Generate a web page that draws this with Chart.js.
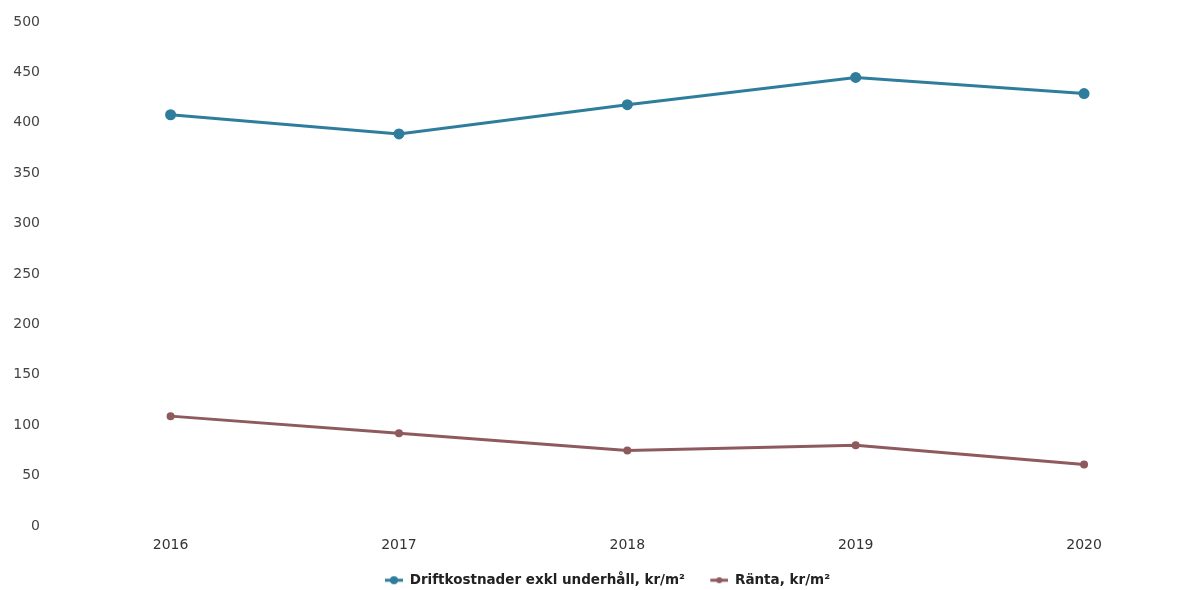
<!DOCTYPE html>
<html lang="sv">
<head>
  <meta charset="UTF-8">
  <title>Driftkostnader och ränta</title>
  <script src="https://cdn.jsdelivr.net/npm/chart.js@4.4.3/dist/chart.umd.min.js"></script>
  <style>
    html, body { margin: 0; padding: 0; background: #fff; overflow: hidden; }
    canvas { display: block; }
  </style>
</head>
<body>
  <canvas id="chart" width="1193" height="590"></canvas>

  <script>
    const years = ['2016', '2017', '2018', '2019', '2020'];
    const driftkostnader = [408, 389, 418, 445, 429];
    const ranta = [109, 92, 75, 80, 61];
    const seriesNames = ['Driftkostnader exkl underhåll, kr/m²', 'Ränta, kr/m²'];

    const blue = '#2f7d9c';
    const red = '#8e5a5d';

    const toPoints = vals => years.map((yr, i) => ({ x: +yr, y: vals[i] }));

    // legendikon: tom yta till vänster (mellanrum), sedan kort linje med punkt
    function legendIcon(color, r) {
      const c = document.createElement('canvas');
      c.width = 40; c.height = 10;
      const g = c.getContext('2d');
      g.strokeStyle = color;
      g.lineWidth = 3;
      g.beginPath(); g.moveTo(22, 5); g.lineTo(40, 5); g.stroke();
      g.fillStyle = color;
      g.beginPath(); g.arc(31, 5, r, 0, Math.PI * 2); g.fill();
      return c;
    }

    Chart.defaults.font.family = '"DejaVu Sans", Verdana, sans-serif';
    Chart.defaults.color = '#555';

    new Chart(document.getElementById('chart'), {
      type: 'line',
      data: {
        datasets: [
          {
            label: seriesNames[0],
            data: toPoints(driftkostnader),
            borderColor: blue,
            backgroundColor: blue,
            borderWidth: 3,
            pointRadius: 4,
            pointHoverRadius: 5,
            tension: 0
          },
          {
            label: seriesNames[1],
            data: toPoints(ranta),
            borderColor: red,
            backgroundColor: red,
            borderWidth: 3,
            pointRadius: 2.5,
            pointHoverRadius: 4,
            tension: 0
          }
        ]
      },
      options: {
        responsive: false,
        animation: false,
        devicePixelRatio: 1,
        layout: { autoPadding: false, padding: { top: 22, right: 0, left: 0, bottom: -7 } },
        scales: {
          x: {
            type: 'linear',
            min: 2015.507,
            max: 2020.477,
            grid: { display: false, drawTicks: false },
            border: { display: false },
            ticks: { color: '#333', font: { size: 14 }, padding: 10.5, callback: v => String(v) },
            afterBuildTicks: s => { s.ticks = years.map(yr => ({ value: +yr })); },
            afterFit: s => { s.height = 44.25; s.paddingLeft = 0; s.paddingRight = 0; }
          },
          y: {
            min: 0,
            max: 500,
            grid: { display: false, drawTicks: false },
            border: { display: false },
            ticks: { stepSize: 50, color: '#444', font: { size: 14 }, padding: 18 },
            afterFit: s => { s.width = 58; s.paddingTop = 0; s.paddingBottom = 0; }
          }
        },
        plugins: {
          legend: {
            position: 'bottom',
            labels: {
              usePointStyle: true,
              pointStyleWidth: 40,
              padding: 3.25,
              color: '#222',
              font: { size: 13.5, weight: 'bold' },
              generateLabels: chart => chart.data.datasets.map((ds, i) => ({
                text: ds.label,
                pointStyle: legendIcon(ds.borderColor, i === 0 ? 4 : 3),
                fontColor: '#222',
                strokeStyle: ds.borderColor,
                fillStyle: ds.borderColor,
                lineWidth: 0,
                hidden: false,
                datasetIndex: i
              }))
            }
          },
          tooltip: { enabled: false }
        }
      }
    });
  </script>
</body>
</html>
